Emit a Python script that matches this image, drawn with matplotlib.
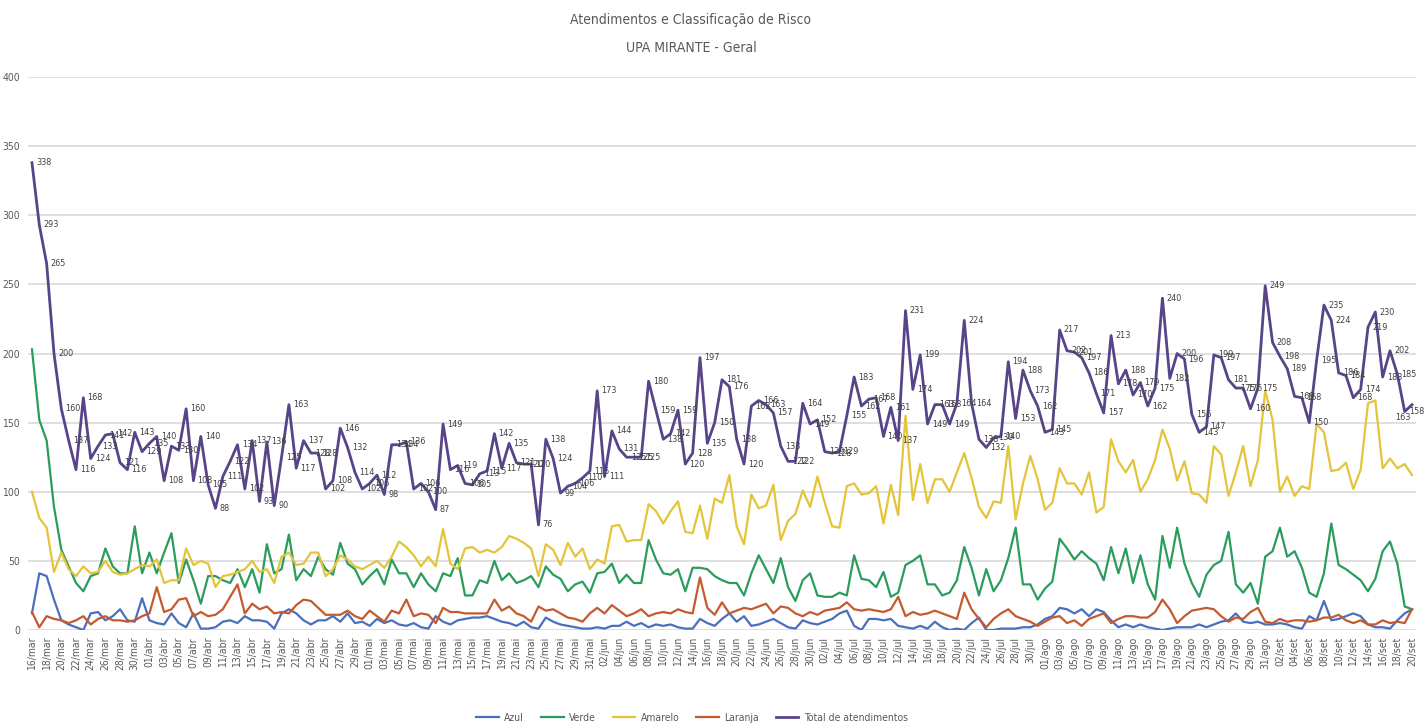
import datetime as dt
import matplotlib
matplotlib.use("Agg")
import matplotlib.pyplot as plt
from matplotlib import font_manager

# daily values (16/mar .. 20/set)
azul = [
    12, 41, 39, 22, 7, 4, 2, 0, 12, 13,
    7, 10, 15, 7, 6, 23, 7, 5, 4, 12,
    5, 2, 12, 1, 1, 2, 6, 7, 5, 10,
    7, 7, 6, 1, 12, 15, 12, 7, 4, 7,
    7, 10, 6, 12, 5, 6, 3, 8, 5, 7,
    4, 3, 5, 2, 1, 10, 6, 4, 7, 8,
    9, 9, 10, 8, 6, 5, 3, 6, 2, 1,
    9, 6, 4, 3, 2, 1, 1, 2, 1, 3,
    3, 6, 3, 5, 2, 4, 3, 4, 2, 1,
    1, 8, 5, 3, 8, 12, 6, 10, 3, 4,
    6, 8, 5, 2, 1, 7, 5, 4, 6, 8,
    12, 14, 3, 0, 8, 8, 7, 8, 3, 2,
    1, 3, 1, 6, 2, 0, 1, 0, 5, 9,
    0, 0, 1, 1, 1, 2, 2, 4, 8, 10,
    16, 15, 12, 15, 10, 15, 13, 7, 2, 4,
    2, 4, 2, 1, 0, 1, 2, 2, 2, 4,
    2, 4, 6, 7, 12, 6, 5, 6, 4, 4,
    5, 4, 2, 1, 10, 7, 21, 7, 8, 10,
    12, 10, 4, 2, 2, 1, 7, 12, 15,
]
verde = [
    203, 152, 137, 89, 58, 46, 34, 28, 39, 41,
    59, 46, 41, 41, 75, 41, 56, 41, 56, 70,
    34, 51, 36, 19, 39, 39, 36, 34, 44, 31,
    44, 27, 62, 41, 44, 69, 36, 44, 39, 53,
    44, 40, 63, 48, 44, 33, 39, 44, 33, 51,
    41, 41, 31, 41, 33, 28, 41, 39, 52, 25,
    25, 36, 34, 50, 36, 41, 34, 36, 39, 31,
    46, 40, 37, 28, 33, 35, 27, 41, 42, 48,
    34, 40, 34, 34, 65, 51, 41, 40, 44, 28,
    45, 45, 44, 39, 36, 34, 34, 25, 41, 54,
    44, 34, 52, 31, 21, 36, 41, 25, 24, 24,
    27, 25, 54, 37, 36, 31, 42, 24, 27, 47,
    50, 54, 33, 33, 25, 27, 36, 60, 45, 25,
    44, 28, 36, 52, 74, 33, 33, 22, 30, 35,
    66, 59, 51, 57, 52, 48, 36, 60, 41, 59,
    34, 54, 33, 22, 68, 45, 74, 48, 34, 24,
    40, 47, 50, 71, 33, 27, 34, 19, 53, 57,
    74, 53, 57, 45, 27, 24, 41, 77, 47, 44,
    40, 36, 28, 37, 57, 64, 48, 17, 15,
]
amarelo = [
    100, 81, 74, 42, 56, 44, 39, 46, 41, 42,
    50, 42, 40, 41, 44, 47, 46, 51, 34, 36,
    36, 59, 47, 50, 48, 31, 39, 40, 42, 44,
    50, 42, 44, 34, 53, 56, 47, 48, 56, 56,
    39, 44, 54, 51, 46, 44, 47, 50, 45, 53,
    64, 60, 54, 46, 53, 46, 73, 48, 44, 59,
    60, 56, 58, 56, 60, 68, 66, 63, 59, 39,
    62, 58, 47, 63, 53, 59, 44, 51, 48, 75,
    76, 64, 65, 65, 91, 86, 77, 86, 93, 71,
    70, 90, 66, 95, 92, 112, 75, 62, 98, 88,
    90, 105, 65, 79, 84, 101, 89, 111, 92, 75,
    74, 104, 106, 98, 99, 104, 77, 105, 83, 155,
    94, 120, 92, 109, 109, 100, 114, 128, 110, 89,
    81, 93, 92, 133, 80, 106, 126, 109, 87, 92,
    117, 106, 106, 98, 114, 85, 89, 138, 122, 114,
    123, 100, 109, 123, 145, 131, 108, 122, 99, 98,
    92, 133, 127, 97, 114, 133, 104, 123, 173, 152,
    100, 111, 97, 104, 102, 149, 143, 115, 116, 121,
    102, 116, 164, 166, 117, 124, 117, 120, 112,
]
laranja = [
    13, 2, 10, 8, 7, 5, 7, 10, 4, 8,
    10, 7, 7, 6, 7, 10, 12, 31, 13, 15,
    22, 23, 10, 13, 10, 11, 15, 24, 33, 12,
    19, 15, 17, 12, 13, 12, 18, 22, 21, 16,
    11, 11, 11, 14, 10, 8, 14, 10, 6, 14,
    12, 22, 10, 12, 11, 5, 16, 13, 13, 12,
    12, 12, 12, 22, 14, 17, 12, 10, 6, 17,
    14, 15, 12, 9, 8, 6, 12, 16, 12, 18,
    14, 10, 12, 15, 10, 12, 13, 12, 15, 13,
    12, 38, 16, 11, 20, 12, 14, 16, 15, 17,
    19, 12, 17, 16, 12, 10, 13, 11, 14, 15,
    16, 20, 15, 14, 15, 14, 13, 15, 24, 10,
    13, 11, 12, 14, 12, 10, 8, 27, 15, 8,
    2, 8, 12, 15, 10, 8, 6, 3, 6, 9,
    10, 5, 7, 3, 8, 10, 12, 5, 8, 10,
    10, 9, 9, 13, 22, 15, 5, 10, 14, 15,
    16, 15, 10, 6, 9, 8, 13, 16, 6, 5,
    8, 6, 7, 7, 6, 7, 9, 9, 11, 7,
    5, 7, 4, 4, 7, 5, 6, 5, 15,
]
total = [
    338, 293, 265, 200, 160, 137, 116, 168, 124, 133,
    141, 142, 121, 116, 143, 129, 135, 140, 108, 133,
    130, 160, 108, 140, 105, 88, 111, 122, 134, 102,
    137, 93, 136, 90, 125, 163, 117, 137, 128, 128,
    102, 108, 146, 132, 114, 102, 106, 112, 98, 134,
    134, 136, 102, 106, 100, 87, 149, 116, 119, 106,
    105, 113, 115, 142, 117, 135, 121, 120, 120, 76,
    138, 124, 99, 104, 106, 110, 115, 173, 111, 144,
    131, 125, 125, 125, 180, 159, 138, 142, 159, 120,
    128, 197, 135, 150, 181, 176, 138, 120, 162, 166,
    163, 157, 133, 122, 122, 164, 149, 152, 129, 128,
    129, 155, 183, 162, 167, 168, 140, 161, 137, 231,
    174, 199, 149, 163, 163, 149, 164, 224, 164, 138,
    132, 139, 140, 194, 153, 188, 173, 162, 143, 145,
    217, 202, 201, 197, 186, 171, 157, 213, 178, 188,
    170, 179, 162, 175, 240, 182, 200, 196, 156, 143,
    147, 199, 197, 181, 175, 175, 160, 175, 249, 208,
    198, 189, 169, 168, 150, 195, 235, 224, 186, 184,
    168, 174, 219, 230, 183, 202, 185, 158, 163,
]

meses = ['jan', 'fev', 'mar', 'abr', 'mai', 'jun',
         'jul', 'ago', 'set', 'out', 'nov', 'dez']
inicio = dt.date(2020, 3, 16)
dias = [inicio + dt.timedelta(days=i) for i in range(len(total))]
rotulos = ["%02d/%s" % (d.day, meses[d.month - 1]) for d in dias]
x = list(range(len(total)))

series = [
    ("Azul", azul, "#4a6fbd", 1.6),
    ("Verde", verde, "#2b9c5c", 1.6),
    ("Amarelo", amarelo, "#e3c43a", 1.6),
    ("Laranja", laranja, "#c45a30", 1.6),
    ("Total de atendimentos", total, "#574489", 2.0),
]

# narrow font if there is one, the reference text is very condensed
nomes = {f.name for f in font_manager.fontManager.ttflist}
familia = "Liberation Sans Narrow" if "Liberation Sans Narrow" in nomes else "DejaVu Sans"
fonte = dict(family=familia, stretch="condensed")
cinza = "#595959"

fig = plt.figure(figsize=(14.24, 7.27), dpi=100)
ax = fig.add_axes([28.3 / 1424, 1 - 630 / 727, (1415.7 - 28.3) / 1424, 553 / 727])

for nome, vals, cor, lw in series:
    ax.plot(x, vals, color=cor, lw=lw, label=nome, solid_joinstyle="round")

# data labels on the total
for xi, v in zip(x, total):
    if xi == x[-1]:
        ax.annotate(str(v), (xi, v), xytext=(-1, -9), textcoords="offset points",
                    ha="right", va="center", fontsize=6.5, color="#404040", **fonte)
    else:
        ax.annotate(str(v), (xi, v), xytext=(3, 0), textcoords="offset points",
                    ha="left", va="center", fontsize=6.5, color="#404040", **fonte)

ax.set_xlim(-0.5, len(total) - 0.5)
ax.set_ylim(0, 400)
ax.set_yticks(range(0, 401, 50))
ax.set_xticks(x[::2])
ax.set_xticklabels(rotulos[::2], rotation=90, fontsize=7.5, color=cinza, **fonte)
ax.set_yticklabels([str(v) for v in range(0, 401, 50)], fontsize=7.5, color=cinza, **fonte)
ax.tick_params(axis="both", length=0)
ax.tick_params(axis="y", pad=6)
ax.tick_params(axis="x", pad=5)
ax.grid(axis="y", color="#d9d9d9", lw=1.2)
ax.set_axisbelow(True)
for s in ax.spines.values():
    s.set_visible(False)

fig.text(691 / 1424, 1 - 20 / 727, "Atendimentos e Classificação de Risco",
         ha="center", va="center", fontsize=10, color=cinza, **fonte)
fig.text(691 / 1424, 1 - 48 / 727, "UPA MIRANTE - Geral",
         ha="center", va="center", fontsize=10, color=cinza, **fonte)

leg = fig.legend(loc="center", bbox_to_anchor=(692 / 1424, 1 - 718 / 727),
                 ncol=5, frameon=False, handlelength=2.2,
                 columnspacing=1.6, handletextpad=0.5,
                 prop=dict(size=7.5, family=familia, stretch="condensed"))
for t in leg.get_texts():
    t.set_color(cinza)

fig.savefig("out.png", dpi=100)
